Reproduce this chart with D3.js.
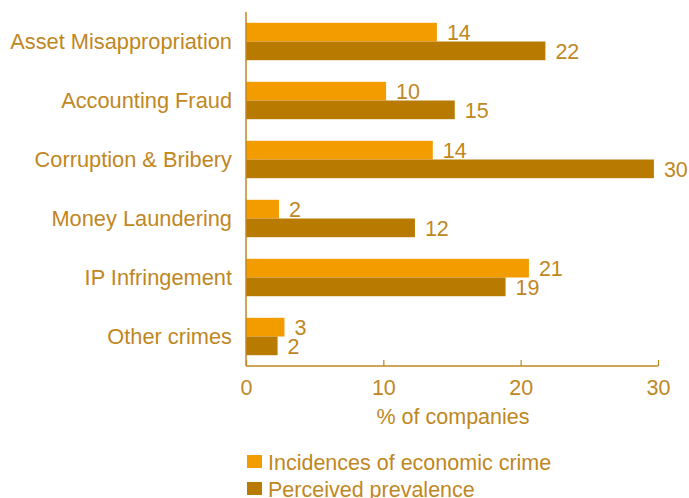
<!DOCTYPE html>
<html><head><meta charset="utf-8">
<script src="https://cdn.jsdelivr.net/npm/d3@7"></script>
<style>body{margin:0;background:#fff}svg{display:block}text{font-family:"Liberation Sans",Arial,sans-serif}</style>
</head><body><div id="chart"></div>
<script>
const categories = ["Asset Misappropriation","Accounting Fraud","Corruption & Bribery","Money Laundering","IP Infringement","Other crimes"];
const incidences = [13.9, 10.2, 13.6, 2.4, 20.6, 2.8];
const perceived = [21.8, 15.2, 29.7, 12.3, 18.9, 2.3];
const incidenceLabels = ["14","10","14","2","21","3"];
const perceivedLabels = ["22","15","30","12","19","2"];
const xTicks = [0,10,20,30];
const seriesNames = ["Incidences of economic crime","Perceived prevalence"];

const W=689,H=498;
const cOrange="#f39c00", cDark="#b97a00", cText="#c0871f";
const FS=21.5;
const svg=d3.select("#chart").append("svg").attr("width",W).attr("height",H);
const x=d3.scaleLinear().domain([0,30]).range([246,658]);
const y=d3.scaleBand().domain(categories).range([12,366]).paddingInner(0.366).paddingOuter(0.183);
const sub=d3.scaleBand().domain([0,1]).range([0,y.bandwidth()]);

const series=[{vals:incidences,labels:incidenceLabels,color:cOrange},{vals:perceived,labels:perceivedLabels,color:cDark}];
series.forEach((s,si)=>{
  svg.append("g").selectAll("rect").data(categories).join("rect")
    .attr("x",x(0)).attr("y",(d)=>y(d)+sub(si))
    .attr("width",(d,i)=>x(s.vals[i])-x(0)).attr("height",sub.bandwidth())
    .attr("fill",s.color);
  svg.append("g").selectAll("text").data(categories).join("text")
    .attr("x",(d,i)=>x(s.vals[i])+10).attr("y",(d)=>y(d)+sub(si)+sub.bandwidth()/2)
    .attr("dy","0.36em").attr("fill",cText).attr("font-size",FS)
    .text((d,i)=>s.labels[i]);
});

// category labels
svg.append("g").selectAll("text").data(categories).join("text")
  .attr("x",232).attr("y",d=>y(d)+y.bandwidth()/2).attr("dy","0.36em")
  .attr("text-anchor","end").attr("fill",cText).attr("font-size",FS+0.3).text(d=>d);

// y axis line
svg.append("line").attr("x1",x(0)).attr("x2",x(0)).attr("y1",12).attr("y2",366)
  .attr("stroke",cText).attr("stroke-width",1.5);

// x axis
const xa=svg.append("g").attr("transform","translate(0,366)")
  .call(d3.axisBottom(x).tickValues(xTicks).tickSize(-6).tickPadding(14).tickFormat(d3.format("d")));
xa.select(".domain").attr("stroke",cText).attr("stroke-width",1.5).attr("d",`M${x(0)},0H${x(30)}`);
xa.selectAll(".tick line").attr("stroke",cText).attr("stroke-width",1.2);
xa.selectAll(".tick text").attr("fill",cText).attr("font-size",FS).attr("font-family","Liberation Sans, Arial, sans-serif");

svg.append("text").attr("x",453).attr("y",416).attr("dy","0.36em").attr("text-anchor","middle")
  .attr("fill",cText).attr("font-size",FS).text("% of companies");

// legend
const lg=svg.append("g");
seriesNames.forEach((n,i)=>{
  lg.append("rect").attr("x",247).attr("y",455+i*27).attr("width",15).attr("height",13).attr("fill",series[i].color);
  lg.append("text").attr("x",268).attr("y",462+i*27).attr("dy","0.36em").attr("fill",cText).attr("font-size",FS).text(n);
});
</script></body></html>
